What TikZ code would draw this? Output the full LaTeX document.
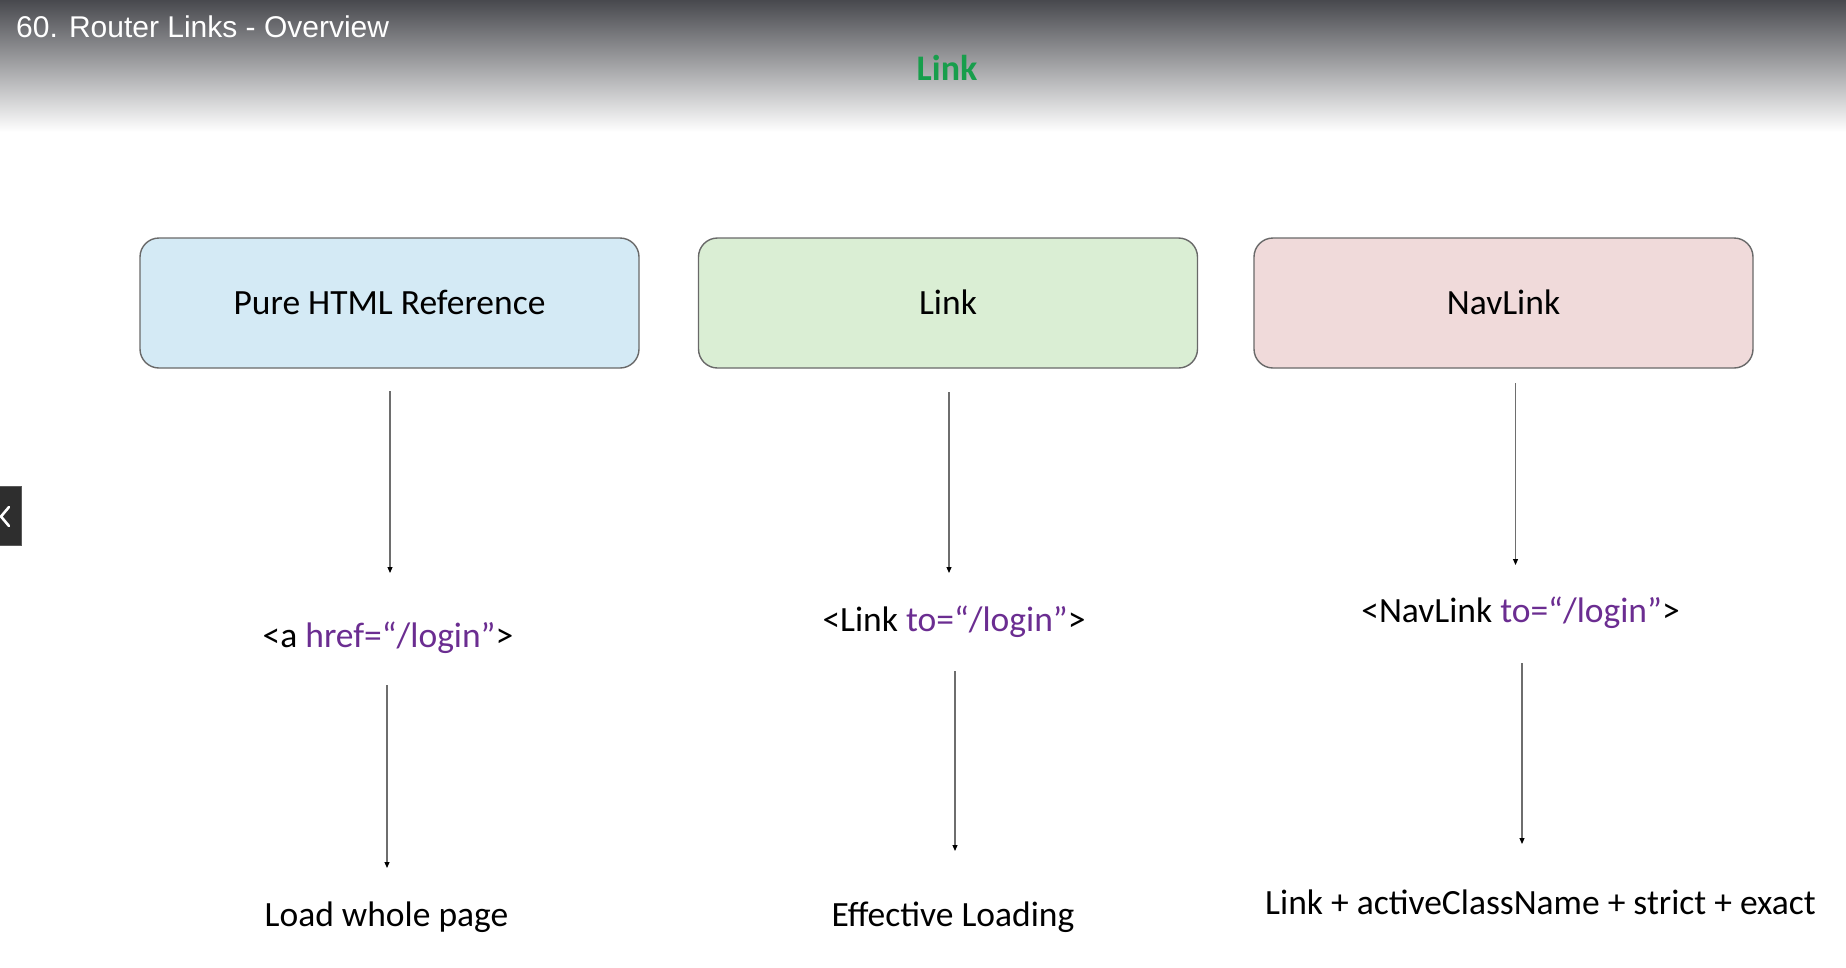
\documentclass[tikz,border=0pt]{standalone}
\usepackage{fontspec}
\setmainfont{Carlito}
\newfontfamily\titlefont{Liberation Sans}
\usetikzlibrary{arrows.meta}
\definecolor{topgray}{RGB}{72,73,78}
\definecolor{boxblue}{RGB}{212,234,245}
\definecolor{boxgreen}{RGB}{218,238,212}
\definecolor{boxpink}{RGB}{240,218,218}
\definecolor{boxline}{RGB}{105,105,105}
\definecolor{codepurple}{RGB}{107,45,145}
\definecolor{titlegreen}{RGB}{24,158,76}
\definecolor{arrline}{RGB}{110,110,110}
\definecolor{tabfill}{RGB}{46,46,46}
\definecolor{tabline}{RGB}{90,90,90}
\newcommand{\pur}[1]{\textcolor{codepurple}{#1}}
\begin{document}
\begin{tikzpicture}[x=1pt,y=-1pt,
  card/.style={draw=boxline, line width=1.4pt, rounded corners=19pt,
    minimum width=499pt, minimum height=130pt, inner sep=0pt,
    text height=23pt, text depth=0pt,
    font=\fontsize{35.5}{42}\selectfont},
  lbl/.style={anchor=base, inner sep=0pt, font=\fontsize{35.5}{42}\selectfont},
  arr/.style={draw=arrline, line width=1.1pt,
    -{Triangle[length=6pt,width=5pt,fill=black,color=black]}}]
\useasboundingbox (0,0) rectangle (1846,967);
\fill[white] (0,0) rectangle (1846,967);
\shade[top color=topgray, bottom color=white] (0,0) rectangle (1846,132);

% header
\node[anchor=base west, inner sep=0pt, text=white,
  font=\titlefont\fontsize{30}{35}\selectfont] (title) at (16,37.5)
  {60. Router Links - Overview};
\node[anchor=base, inner sep=0pt, text=titlegreen,
  font=\bfseries\fontsize{36}{42}\selectfont] (head) at (947,80) {Link};

% left tab
\path[fill=tabfill, draw=tabline, line width=1pt] (-2,486) rectangle (21,545);
\draw[white, line width=2.6pt, line cap=round, line join=round]
  (9,507) -- (1,516.5) -- (9,526);

% boxes
\node[card, fill=boxblue]  (b1) at (389.5,303) {Pure HTML Reference};
\node[card, fill=boxgreen] (b2) at (948,303)   {Link};
\node[card, fill=boxpink]  (b3) at (1503.5,303) {NavLink};

% middle labels
\node[lbl] (m1) at (388,647.5) {<a \pur{href=“/login”}>};
\node[lbl] (m2) at (954,631.5)   {<Link \pur{to=“/login”}>};
\node[lbl] (m3) at (1520.5,622.5) {<NavLink \pur{to=“/login”}>};

% bottom labels
\node[lbl] (r1) at (386.5,926.5) {Load whole page};
\node[lbl] (r2) at (953,926.5)   {Effective Loading};
\node[lbl] (r3) at (1540.5,914)  {Link + activeClassName + strict + exact};

% arrow ends
\coordinate (s1) at (390,391);   \coordinate (e1) at (390,573);
\coordinate (s2) at (387,685);   \coordinate (e2) at (387,868);
\coordinate (s3) at (949,392);   \coordinate (e3) at (949,573);
\coordinate (s4) at (955,671);   \coordinate (e4) at (955,851);
\coordinate (s5) at (1515.5,383); \coordinate (e5) at (1515.5,565);
\coordinate (s6) at (1522,663);  \coordinate (e6) at (1522,844);

\draw[arr] (s1) -- (e1);
\draw[arr] (s2) -- (e2);
\draw[arr] (s3) -- (e3);
\draw[arr] (s4) -- (e4);
\draw[arr] (s5) -- (e5);
\draw[arr] (s6) -- (e6);
\end{tikzpicture}
\end{document}
